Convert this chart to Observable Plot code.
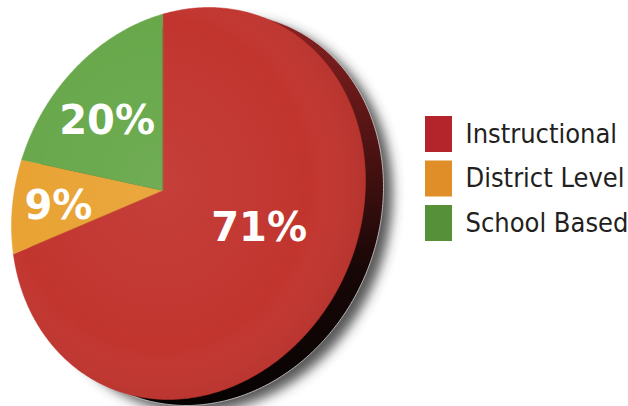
<!DOCTYPE html>
<html>
<head>
<meta charset="utf-8">
<script src="https://cdn.jsdelivr.net/npm/d3@7"></script>
<script src="https://cdn.jsdelivr.net/npm/@observablehq/plot@0.6"></script>
<style>
  html, body { margin: 0; padding: 0; background: #ffffff; }
  #chart { width: 628px; height: 406px; }
</style>
</head>
<body>
<div id="chart"></div>
<script>
// ---- data ----
const categories = ["Instructional", "District Level", "School Based"];
const shares = [71, 9, 20];
const labels = ["71%", "9%", "20%"];
const sliceColors = ["#c2352f", "#e9a334", "#68a84b"];
const legendColors = ["#b3252a", "#e08f28", "#56913a"];

// ---- tilted-disc geometry (perspective view of a flat pie) ----
const W = 628, H = 406;
const C = [188, 203], RX = 177, RY = 196, COV = -4000;
const L11 = RX, L21 = COV / RX, L22 = Math.sqrt(RY * RY - L21 * L21);
const vertex = [162, 190];
const toImg = ([u, v]) => [C[0] + L11 * u, C[1] + L21 * u + L22 * v];
const fromImg = ([x, y]) => { const u = (x - C[0]) / L11; return [u, (y - C[1] - L21 * u) / L22]; };
const p = fromImg(vertex);
const t = Math.hypot(p[0], p[1]);
const dd = [p[0] / t, p[1] / t];
const s = Math.sqrt(1 - t * t);
function boost([u, v], sign = 1) {
  const a = u * dd[0] + v * dd[1], b = -u * dd[1] + v * dd[0];
  const den = 1 + sign * t * a;
  const a2 = (a + sign * t) / den, b2 = b * s / den;
  return [a2 * dd[0] - b2 * dd[1], a2 * dd[1] + b2 * dd[0]];
}
const u0 = (vertex[0] - C[0]) / L11;
const q0 = boost([u0, -Math.sqrt(1 - u0 * u0)], -1);
const theta0 = Math.atan2(q0[0], -q0[1]);
const project = (theta, r) => toImg(boost([r * Math.sin(theta + theta0), -r * Math.cos(theta + theta0)]));

const arcs = d3.pie().sort(null)(shares);
const slices = arcs.map((a) => {
  const pts = [{x: vertex[0], y: vertex[1]}];
  const n = Math.max(4, Math.ceil((a.endAngle - a.startAngle) / 0.01));
  for (let k = 0; k <= n; ++k) {
    const [x, y] = project(a.startAngle + (a.endAngle - a.startAngle) * k / n, 1);
    pts.push({x, y});
  }
  return pts;
});
const outline = d3.range(0, 360).map(k => { const [x, y] = project(k * Math.PI / 180, 1); return {x, y}; });

const labelR = [0.55, 0.72, 0.55];
const labelShift = [[14, -22], [8, 4], [-4, 2]];
const labelRows = arcs.map((a, i) => {
  const [x, y] = project((a.startAngle + a.endAngle) / 2, labelR[i]);
  return {x: x + labelShift[i][0], y: y + labelShift[i][1], text: labels[i]};
});

const legendTop = 116, legendStep = 44.5;
const SHADOW = "#3a3a3a", RIM = "#2a0a0a", SHADE = "#fefefe";

const chart = Plot.plot({
  width: W, height: H, margin: 0,
  x: {domain: [0, W], range: [0, W], axis: null},
  y: {domain: [0, H], range: [0, H], axis: null},
  marks: [
    Plot.line(outline, {x: "x", y: "y", fill: SHADOW, fillOpacity: 0.85, stroke: "none", dx: 27, dy: 13, curve: "linear-closed"}),
    Plot.line(outline, {x: "x", y: "y", fill: RIM, stroke: "#d0d0d0", strokeWidth: 0.8, dx: 18, dy: 6, curve: "linear-closed"}),
    ...slices.map((pts, i) => Plot.line(pts, {x: "x", y: "y", fill: sliceColors[i], stroke: sliceColors[i], strokeWidth: 0.5, curve: "linear-closed"})),
    Plot.line(outline, {x: "x", y: "y", fill: SHADE, stroke: "none", curve: "linear-closed"}),
    Plot.text(labelRows, {x: "x", y: "y", text: "text", fill: "white", fontSize: 40, fontWeight: "bold", fontFamily: "DejaVu Sans, Verdana, sans-serif"}),
    Plot.rect(categories, {x1: 425, x2: 452, y1: (d, i) => legendTop + legendStep * i, y2: (d, i) => legendTop + legendStep * i + 36, fill: (d, i) => legendColors[i]}),
    Plot.text(categories, {x: 465, y: (d, i) => legendTop + legendStep * i + 26, text: d => d, textAnchor: "start", lineAnchor: "bottom", fill: "#231f20", fontSize: 27, fontFamily: "DejaVu Sans Condensed, DejaVu Sans, sans-serif"})
  ]
});

// gradients and blur applied to the marks' groups
const svg = d3.select(chart);
const defs = svg.insert("defs", ":first-child");
const rg = defs.append("linearGradient").attr("id", "rimGrad").attr("x1", 0).attr("y1", 0).attr("x2", 0).attr("y2", 1);
rg.append("stop").attr("offset", "0%").attr("stop-color", "#8c2222");
rg.append("stop").attr("offset", "30%").attr("stop-color", "#551414");
rg.append("stop").attr("offset", "65%").attr("stop-color", "#180707");
rg.append("stop").attr("offset", "100%").attr("stop-color", "#070303");
const fs = defs.append("radialGradient").attr("id", "faceShade").attr("cx", "0.42").attr("cy", "0.45").attr("r", "0.6");
fs.append("stop").attr("offset", "0%").attr("stop-color", "#ffffff").attr("stop-opacity", 0.05);
fs.append("stop").attr("offset", "70%").attr("stop-color", "#ffffff").attr("stop-opacity", 0);
fs.append("stop").attr("offset", "100%").attr("stop-color", "#000000").attr("stop-opacity", 0.08);
defs.append("filter").attr("id", "blurShadow").attr("x", "-20%").attr("y", "-20%").attr("width", "140%").attr("height", "140%")
  .append("feGaussianBlur").attr("stdDeviation", 6);

function styleMark(color, fn) {
  svg.selectAll("g").filter(function() { return (this.getAttribute("fill") || "").toLowerCase() === color; }).each(fn);
  svg.selectAll("path").filter(function() { return (this.getAttribute("fill") || "").toLowerCase() === color; }).each(fn);
}
styleMark(SHADOW, function() { this.setAttribute("filter", "url(#blurShadow)"); });
styleMark(RIM, function() { this.setAttribute("fill", "url(#rimGrad)"); });
styleMark(SHADE, function() { this.setAttribute("fill", "url(#faceShade)"); });

document.getElementById("chart").appendChild(chart);
</script>
</body>
</html>
